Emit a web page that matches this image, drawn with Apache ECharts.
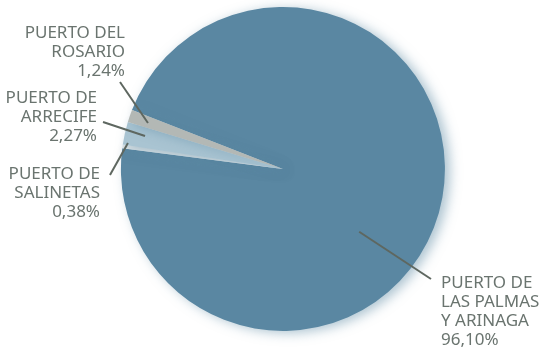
<!DOCTYPE html>
<html>
<head>
<meta charset="utf-8">
<script src="https://cdn.jsdelivr.net/npm/echarts@6/dist/echarts.min.js"></script>
<style>
html,body{margin:0;padding:0;background:#fff;}
#chart{width:542px;height:349px;}
</style>
</head>
<body>
<div id="chart"></div>
<script>
// Data
var categories = ['PUERTO DE\nLAS PALMAS\nY ARINAGA', 'PUERTO DE\nSALINETAS', 'PUERTO DE\nARRECIFE', 'PUERTO DEL\nROSARIO'];
var values = [96.10, 0.38, 2.27, 1.24];
var colors = ['#5a87a2', '#dce3e6', '#a9c4d2', '#b3b8b5'];

// Label layout (positions only)
var CX = 0.522, CY = 0.484, R = 162;
var labelCfg = [
  {x: 441, y: 274, align: 'left', inner: [320.5, 0.61], outer: [431, 279]},
  {x: 100, y: 165, align: 'right', inner: [170.5, 0.97], outer: [110, 175]},
  {x: 97, y: 89, align: 'right', inner: [166.6, 0.875], outer: [103, 122]},
  {x: 125, y: 24, align: 'right', inner: [161.2, 0.88], outer: [120, 82]}
];

var chart = echarts.init(document.getElementById('chart'));
var W = chart.getWidth(), H = chart.getHeight();
var cx = W * CX, cy = H * CY;
var data = categories.map(function (c, i) {
  return {name: c, value: values[i], itemStyle: {color: colors[i]}};
});
var lines = labelCfg.map(function (cfg) {
  var a = cfg.inner[0] * Math.PI / 180;
  var ix = cx + Math.cos(a) * R * cfg.inner[1];
  var iy = cy - Math.sin(a) * R * cfg.inner[1];
  return {
    type: 'polyline',
    z: 100,
    shape: {points: [[ix, iy], [cfg.outer[0], cfg.outer[1]]]},
    style: {stroke: '#5e6760', lineWidth: 2, fill: null}
  };
});
chart.setOption({
  animation: false,
  graphic: lines,
  series: [{
    type: 'pie',
    center: [(CX * 100) + '%', (CY * 100) + '%'],
    radius: R,
    startAngle: 158.7,
    clockwise: true,
    avoidLabelOverlap: false,
    data: data,
    itemStyle: {
      shadowBlur: 12,
      shadowOffsetX: 5,
      shadowOffsetY: 2,
      shadowColor: 'rgba(90,135,162,0.5)'
    },
    emphasis: {disabled: true},
    label: {
      show: true,
      position: 'outside',
      fontFamily: 'Noto Sans',
      fontSize: 17,
      lineHeight: 19,
      color: '#6a746f',
      formatter: function (p) {
        return p.name + '\n' + p.value.toFixed(2).replace('.', ',') + '%';
      }
    },
    labelLine: {show: false},
    labelLayout: function (p) {
      var cfg = labelCfg[p.dataIndex];
      return {
        x: cfg.x,
        y: cfg.y,
        align: cfg.align,
        verticalAlign: 'top'
      };
    }
  }]
});
</script>
</body>
</html>
